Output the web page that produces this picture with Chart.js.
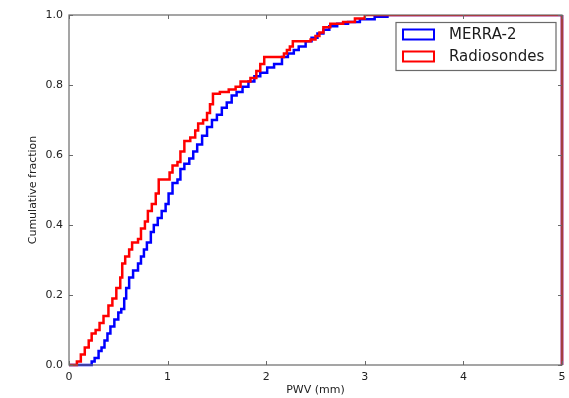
<!DOCTYPE html>
<html>
<head>
<meta charset="utf-8">
<script src="https://cdn.jsdelivr.net/npm/chart.js@4/dist/chart.umd.min.js"></script>
<style>
    body { margin: 0; background: #fff; }
    canvas { display: block; }
</style>
</head>
<body>
<canvas id="cdfChart" width="569" height="398"></canvas>
<script>
// Cumulative distributions of PWV
// (x = PWV where the step happens, y = cumulative fraction after the step)
const merraPwv = [0, 0.23, 0.26, 0.30, 0.33, 0.36, 0.39, 0.42, 0.46, 0.50, 0.53, 0.56, 0.58, 0.61, 0.65,
    0.70, 0.73, 0.76, 0.79, 0.83, 0.86, 0.90, 0.94, 0.98, 1.01, 1.05, 1.10, 1.13, 1.17, 1.22,
    1.26, 1.30, 1.35, 1.40, 1.45, 1.50, 1.55, 1.60, 1.65, 1.70, 1.76, 1.82, 1.88, 1.94, 2.01,
    2.08, 2.16, 2.22, 2.28, 2.33, 2.40, 2.46, 2.52, 2.58, 2.64, 2.72, 2.83, 2.95, 3.10, 3.23, 5, 5];
const merraFrac = [0, 0.01, 0.02, 0.04, 0.05, 0.07, 0.09, 0.11, 0.13, 0.15, 0.16, 0.19, 0.22, 0.25, 0.27,
    0.29, 0.31, 0.33, 0.35, 0.38, 0.40, 0.42, 0.44, 0.46, 0.49, 0.52, 0.53, 0.56, 0.575, 0.59,
    0.61, 0.63, 0.655, 0.68, 0.70, 0.715, 0.735, 0.75, 0.77, 0.78, 0.795, 0.81, 0.825, 0.835, 0.85,
    0.86, 0.88, 0.89, 0.90, 0.91, 0.925, 0.935, 0.947, 0.958, 0.968, 0.975, 0.98, 0.988, 0.995, 1.0, 1.0, 0];

const sondePwv = [0, 0.08, 0.12, 0.16, 0.20, 0.23, 0.27, 0.31, 0.35, 0.40, 0.44, 0.48, 0.52, 0.54, 0.57,
    0.61, 0.64, 0.70, 0.73, 0.77, 0.80, 0.84, 0.88, 0.91, 1.02, 1.05, 1.10, 1.13, 1.17, 1.23,
    1.28, 1.31, 1.36, 1.40, 1.43, 1.46, 1.53, 1.62, 1.69, 1.74, 1.84, 1.90, 1.94, 1.98, 2.18,
    2.21, 2.24, 2.27, 2.45, 2.50, 2.54, 2.58, 2.65, 2.78, 2.90, 3.00, 5, 5];
const sondeFrac = [0, 0.01, 0.03, 0.05, 0.07, 0.09, 0.10, 0.12, 0.14, 0.17, 0.19, 0.22, 0.25, 0.29, 0.31,
    0.33, 0.35, 0.36, 0.39, 0.41, 0.44, 0.46, 0.49, 0.53, 0.55, 0.57, 0.58, 0.61, 0.64, 0.65,
    0.67, 0.69, 0.70, 0.72, 0.745, 0.775, 0.78, 0.787, 0.795, 0.81, 0.82, 0.84, 0.86, 0.88, 0.89,
    0.90, 0.91, 0.925, 0.93, 0.94, 0.95, 0.965, 0.975, 0.98, 0.99, 1.0, 1.0, 0];

const seriesLabels = ['MERRA-2', 'Radiosondes'];
const seriesColors = ['#0000ff', '#ff0000'];
const xTicks = [0, 1, 2, 3, 4, 5];
const yTicks = [0, 0.2, 0.4, 0.6, 0.8, 1.0];

const FONT = 'DejaVu Sans';
const SPINE = '#6a6a6a';

function toPoints(xs, ys) {
    return xs.map((x, i) => ({ x: x, y: ys[i] }));
}

// Frame, inward ticks on all sides and the in-plot legend (matplotlib look)
const framePlugin = {
    id: 'frame',
    afterDatasetsDraw(chart) {
        const { ctx, chartArea: a, scales } = chart;
        ctx.save();
        ctx.strokeStyle = SPINE;
        ctx.lineWidth = 1.2;
        ctx.strokeRect(a.left, a.top, a.right - a.left, a.bottom - a.top);

        ctx.lineWidth = 1;
        const len = 4;
        ctx.beginPath();
        xTicks.forEach(v => {
            const px = Math.round(scales.x.getPixelForValue(v)) + 0.5;
            ctx.moveTo(px, a.bottom); ctx.lineTo(px, a.bottom - len);
            ctx.moveTo(px, a.top); ctx.lineTo(px, a.top + len);
        });
        yTicks.forEach(v => {
            const py = Math.round(scales.y.getPixelForValue(v)) + 0.5;
            ctx.moveTo(a.left, py); ctx.lineTo(a.left + len, py);
            ctx.moveTo(a.right, py); ctx.lineTo(a.right - len, py);
        });
        ctx.stroke();

        // legend box
        const bx = 396, by = 22.5, bw = 160, bh = 48;
        ctx.fillStyle = '#fff';
        ctx.fillRect(bx, by, bw, bh);
        ctx.strokeStyle = SPINE;
        ctx.lineWidth = 1.2;
        ctx.strokeRect(bx, by, bw, bh);

        ctx.font = '15px "' + FONT + '"';
        ctx.textBaseline = 'middle';
        ctx.textAlign = 'left';
        seriesLabels.forEach((label, i) => {
            const cy = 34.5 + i * 22;
            ctx.strokeStyle = seriesColors[i];
            ctx.lineWidth = 2;
            ctx.strokeRect(403, cy - 5, 31, 10);
            ctx.fillStyle = '#1a1a1a';
            ctx.fillText(label, 449, cy + 0.5);
        });
        ctx.restore();
    }
};

const lineClip = { left: 3, top: 0, right: 3, bottom: 3 };

new Chart(document.getElementById('cdfChart'), {
    type: 'line',
    data: {
        datasets: [
            {
                label: seriesLabels[0],
                data: toPoints(merraPwv, merraFrac),
                borderColor: seriesColors[0],
                borderWidth: 2.5,
                stepped: true,
                pointRadius: 0,
                fill: false,
                clip: lineClip,
                order: 2
            },
            {
                label: seriesLabels[1],
                data: toPoints(sondePwv, sondeFrac),
                borderColor: seriesColors[1],
                borderWidth: 2.5,
                stepped: true,
                pointRadius: 0,
                fill: false,
                clip: lineClip,
                order: 1
            }
        ]
    },
    options: {
        responsive: false,
        devicePixelRatio: 1,
        animation: false,
        layout: { padding: { top: 15, right: 7, left: 0, bottom: 0 } },
        plugins: {
            legend: { display: false },
            tooltip: { enabled: false }
        },
        scales: {
            x: {
                type: 'linear',
                min: 0,
                max: 5,
                afterFit: scale => {
                    scale.height = 33;
                    scale.paddingLeft = 0;
                    scale.paddingRight = 0;
                },
                afterBuildTicks: scale => { scale.ticks = xTicks.map(v => ({ value: v })); },
                grid: { display: false, drawTicks: false },
                border: { display: false },
                ticks: {
                    padding: 6,
                    color: '#222',
                    font: { family: FONT, size: 11 },
                    callback: v => String(v)
                },
                title: {
                    display: true,
                    text: 'PWV (mm)',
                    color: '#222',
                    font: { family: FONT, size: 11 },
                    padding: { top: 0, bottom: 1 }
                }
            },
            y: {
                type: 'linear',
                min: 0,
                max: 1,
                afterFit: scale => {
                    scale.width = 69;
                    scale.paddingTop = 0;
                    scale.paddingBottom = 0;
                },
                afterBuildTicks: scale => { scale.ticks = yTicks.map(v => ({ value: v })); },
                grid: { display: false, drawTicks: false },
                border: { display: false },
                ticks: {
                    padding: 6,
                    color: '#222',
                    font: { family: FONT, size: 11 },
                    callback: v => Number(v).toFixed(1)
                },
                title: {
                    display: true,
                    text: 'Cumulative fraction',
                    color: '#222',
                    font: { family: FONT, size: 11 },
                    padding: { top: 27, bottom: 0 }
                }
            }
        }
    },
    plugins: [framePlugin]
});
</script>
</body>
</html>
